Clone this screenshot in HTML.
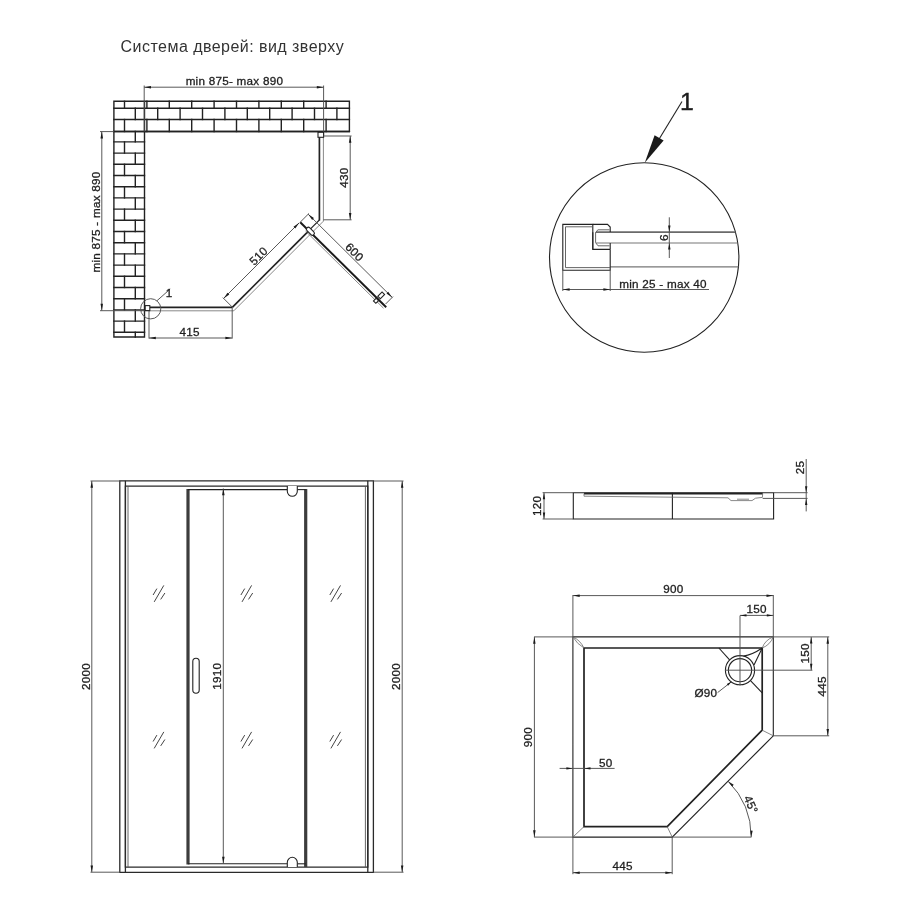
<!DOCTYPE html>
<html lang="ru"><head><meta charset="utf-8"><title>Система дверей: вид зверху</title>
<style>
html,body{margin:0;padding:0;background:#fff}
body{width:900px;height:900px;overflow:hidden}
svg{display:block;filter:grayscale(1)}
text{font-family:"Liberation Sans",sans-serif;fill:#1c1c1c}
.tx{font-size:11.7px;letter-spacing:.25px;stroke:#222;stroke-width:.3px}
.big{font-size:24.8px;stroke:#1c1c1c;stroke-width:.45px}
.ti{font-size:16px;letter-spacing:.46px;fill:#333}
line,path,circle,rect{fill:none;stroke-linecap:butt}
.d{stroke:#505050;stroke-width:.95}
.o{stroke:#222;stroke-width:1.1}
.b{stroke:#222;stroke-width:1.4;stroke-linecap:square}
.t{stroke:#222;stroke-width:1.7}
.t2{stroke:#1a1a1a;stroke-width:2}
.t3{stroke:#3c3c3c;stroke-width:3.2;fill:none}
.o2{stroke:#2a2a2a;stroke-width:1.3}
.g{stroke:#6a6a6a;stroke-width:.8}
.g2{stroke:#555;stroke-width:.9}
.gl{stroke:#6a6a6a;stroke-width:1.8}
.g4{stroke:#777;stroke-width:1.2}
.g3{stroke:#444;stroke-width:1}
.a{fill:#1a1a1a;stroke:none}
</style></head>
<body>
<svg width="900" height="900" viewBox="0 0 900 900">
<rect x="0" y="0" width="900" height="900" style="fill:#fff;stroke:none"/>
<text class="ti" x="120.6" y="51.7" text-anchor="start">Система дверей: вид зверху</text>
<path class="b" d="M113.9 337.0 L113.9 101.3 L349.4 101.3 L349.4 131.5 L144.5 131.5 L144.5 337.0 L113.9 337.0 Z"/>
<line class="b" x1="113.9" y1="108.3" x2="349.4" y2="108.3"/>
<line class="b" x1="113.9" y1="119.5" x2="349.4" y2="119.5"/>
<line class="b" x1="113.9" y1="131.5" x2="144.5" y2="131.5"/>
<line class="b" x1="113.9" y1="141.9" x2="144.5" y2="141.9"/>
<line class="b" x1="113.9" y1="153.1" x2="144.5" y2="153.1"/>
<line class="b" x1="113.9" y1="164.3" x2="144.5" y2="164.3"/>
<line class="b" x1="113.9" y1="175.5" x2="144.5" y2="175.5"/>
<line class="b" x1="113.9" y1="186.7" x2="144.5" y2="186.7"/>
<line class="b" x1="113.9" y1="197.9" x2="144.5" y2="197.9"/>
<line class="b" x1="113.9" y1="209.1" x2="144.5" y2="209.1"/>
<line class="b" x1="113.9" y1="220.3" x2="144.5" y2="220.3"/>
<line class="b" x1="113.9" y1="231.5" x2="144.5" y2="231.5"/>
<line class="b" x1="113.9" y1="242.7" x2="144.5" y2="242.7"/>
<line class="b" x1="113.9" y1="253.9" x2="144.5" y2="253.9"/>
<line class="b" x1="113.9" y1="265.1" x2="144.5" y2="265.1"/>
<line class="b" x1="113.9" y1="276.3" x2="144.5" y2="276.3"/>
<line class="b" x1="113.9" y1="287.5" x2="144.5" y2="287.5"/>
<line class="b" x1="113.9" y1="298.7" x2="144.5" y2="298.7"/>
<line class="b" x1="113.9" y1="309.9" x2="144.5" y2="309.9"/>
<line class="b" x1="113.9" y1="321.1" x2="144.5" y2="321.1"/>
<line class="b" x1="113.9" y1="332.3" x2="144.5" y2="332.3"/>
<line class="b" x1="124.5" y1="101.3" x2="124.5" y2="108.3"/>
<line class="b" x1="146.9" y1="101.3" x2="146.9" y2="108.3"/>
<line class="b" x1="169.3" y1="101.3" x2="169.3" y2="108.3"/>
<line class="b" x1="191.7" y1="101.3" x2="191.7" y2="108.3"/>
<line class="b" x1="214.1" y1="101.3" x2="214.1" y2="108.3"/>
<line class="b" x1="236.5" y1="101.3" x2="236.5" y2="108.3"/>
<line class="b" x1="258.9" y1="101.3" x2="258.9" y2="108.3"/>
<line class="b" x1="281.3" y1="101.3" x2="281.3" y2="108.3"/>
<line class="b" x1="303.7" y1="101.3" x2="303.7" y2="108.3"/>
<line class="b" x1="326.1" y1="101.3" x2="326.1" y2="108.3"/>
<line class="b" x1="135.3" y1="108.3" x2="135.3" y2="119.5"/>
<line class="b" x1="157.7" y1="108.3" x2="157.7" y2="119.5"/>
<line class="b" x1="180.1" y1="108.3" x2="180.1" y2="119.5"/>
<line class="b" x1="202.5" y1="108.3" x2="202.5" y2="119.5"/>
<line class="b" x1="224.9" y1="108.3" x2="224.9" y2="119.5"/>
<line class="b" x1="247.3" y1="108.3" x2="247.3" y2="119.5"/>
<line class="b" x1="269.7" y1="108.3" x2="269.7" y2="119.5"/>
<line class="b" x1="292.1" y1="108.3" x2="292.1" y2="119.5"/>
<line class="b" x1="314.5" y1="108.3" x2="314.5" y2="119.5"/>
<line class="b" x1="336.9" y1="108.3" x2="336.9" y2="119.5"/>
<line class="b" x1="124.5" y1="119.5" x2="124.5" y2="131.5"/>
<line class="b" x1="146.9" y1="119.5" x2="146.9" y2="131.5"/>
<line class="b" x1="169.3" y1="119.5" x2="169.3" y2="131.5"/>
<line class="b" x1="191.7" y1="119.5" x2="191.7" y2="131.5"/>
<line class="b" x1="214.1" y1="119.5" x2="214.1" y2="131.5"/>
<line class="b" x1="236.5" y1="119.5" x2="236.5" y2="131.5"/>
<line class="b" x1="258.9" y1="119.5" x2="258.9" y2="131.5"/>
<line class="b" x1="281.3" y1="119.5" x2="281.3" y2="131.5"/>
<line class="b" x1="303.7" y1="119.5" x2="303.7" y2="131.5"/>
<line class="b" x1="326.1" y1="119.5" x2="326.1" y2="131.5"/>
<line class="b" x1="135.3" y1="131.5" x2="135.3" y2="141.9"/>
<line class="b" x1="124.5" y1="141.9" x2="124.5" y2="153.1"/>
<line class="b" x1="135.3" y1="153.1" x2="135.3" y2="164.3"/>
<line class="b" x1="124.5" y1="164.3" x2="124.5" y2="175.5"/>
<line class="b" x1="135.3" y1="175.5" x2="135.3" y2="186.7"/>
<line class="b" x1="124.5" y1="186.7" x2="124.5" y2="197.9"/>
<line class="b" x1="135.3" y1="197.9" x2="135.3" y2="209.1"/>
<line class="b" x1="124.5" y1="209.1" x2="124.5" y2="220.3"/>
<line class="b" x1="135.3" y1="220.3" x2="135.3" y2="231.5"/>
<line class="b" x1="124.5" y1="231.5" x2="124.5" y2="242.7"/>
<line class="b" x1="135.3" y1="242.7" x2="135.3" y2="253.9"/>
<line class="b" x1="124.5" y1="253.9" x2="124.5" y2="265.1"/>
<line class="b" x1="135.3" y1="265.1" x2="135.3" y2="276.3"/>
<line class="b" x1="124.5" y1="276.3" x2="124.5" y2="287.5"/>
<line class="b" x1="135.3" y1="287.5" x2="135.3" y2="298.7"/>
<line class="b" x1="124.5" y1="298.7" x2="124.5" y2="309.9"/>
<line class="b" x1="135.3" y1="309.9" x2="135.3" y2="321.1"/>
<line class="b" x1="124.5" y1="321.1" x2="124.5" y2="332.3"/>
<line class="b" x1="135.3" y1="332.3" x2="135.3" y2="337.0"/>
<line class="b" x1="144.5" y1="101.3" x2="144.5" y2="131.5"/>
<line class="b" x1="113.9" y1="131.5" x2="349.4" y2="131.5"/>
<text class="tx" x="234.4" y="84.8" text-anchor="middle">min 875- max 890</text>
<line class="d" x1="144.2" y1="87.2" x2="323.6" y2="87.2"/>
<polygon class="a" points="144.2,87.2 151.0,86.0 151.0,88.5"/>
<polygon class="a" points="323.6,87.2 316.8,88.5 316.8,86.0"/>
<line class="d" x1="144.2" y1="85.5" x2="144.2" y2="131.5"/>
<line class="d" x1="323.6" y1="85.5" x2="323.6" y2="136.0"/>
<text class="tx" x="99.9" y="222.0" text-anchor="middle" transform="rotate(-90 99.9 222.0)">min 875 - max 890</text>
<line class="d" x1="101.8" y1="131.6" x2="101.8" y2="310.6"/>
<polygon class="a" points="101.8,131.6 103.0,138.4 100.5,138.4"/>
<polygon class="a" points="101.8,310.6 100.5,303.8 103.0,303.8"/>
<line class="d" x1="100.0" y1="131.6" x2="113.9" y2="131.6"/>
<line class="d" x1="100.0" y1="310.7" x2="150.0" y2="310.7"/>
<line class="t" x1="150.0" y1="307.3" x2="232.3" y2="307.3"/>
<line class="g" x1="149.0" y1="310.8" x2="233.8" y2="310.8"/>
<path class="t" d="M232.3 307.3 L308.5 231.1"/>
<path class="o" d="M308.5 230.9 L319.4 220.0"/>
<path class="t" d="M319.4 220.6 L319.4 133.0"/>
<path class="g" d="M233.8 310.8 L323.4 221.2 L323.4 133.0"/>
<rect class="o" x="145.2" y="305.6" width="4.6" height="5" style="fill:#fff"/>
<rect class="o" x="318" y="132.3" width="5.6" height="5" style="fill:#fff"/>
<line class="t2" x1="300.2" y1="222.2" x2="386.2" y2="307.2"/>
<line class="g" x1="305.5" y1="231.0" x2="383.5" y2="308.2"/>
<rect class="o" x="-4.8" y="-2" width="9.6" height="4" rx="2" style="fill:#fff" transform="translate(310.4 231.2) rotate(45)"/>
<rect class="o" x="-3" y="-1.8" width="6" height="3.6" style="fill:#fff" transform="translate(381.2 295.4) rotate(-45)"/>
<rect class="o" x="-1.9" y="-1.7" width="3.8" height="3.4" style="fill:#fff" transform="translate(376.0 300.8) rotate(-45)"/>
<line class="d" x1="223.6" y1="298.4" x2="299.2" y2="222.8"/>
<polygon class="a" points="223.6,298.4 227.5,292.7 229.3,294.5"/>
<polygon class="a" points="299.2,222.8 295.3,228.5 293.5,226.7"/>
<line class="d" x1="232.3" y1="307.1" x2="222.8" y2="297.6"/>
<text class="tx" x="261.3" y="258.8" text-anchor="middle" transform="rotate(-45 261.3 258.8)">510</text>
<line class="d" x1="308.2" y1="214.2" x2="392.2" y2="297.4"/>
<polygon class="a" points="308.2,214.2 313.9,218.1 312.2,219.9"/>
<polygon class="a" points="392.2,297.4 386.5,293.5 388.2,291.7"/>
<line class="d" x1="300.2" y1="222.2" x2="309.0" y2="213.4"/>
<line class="d" x1="385.6" y1="304.0" x2="393.0" y2="296.6"/>
<text class="tx" x="351.7" y="255.0" text-anchor="middle" transform="rotate(45 351.7 255.0)">600</text>
<line class="d" x1="350.2" y1="136.0" x2="350.2" y2="219.8"/>
<polygon class="a" points="350.2,136.0 351.4,142.8 348.9,142.8"/>
<polygon class="a" points="350.2,219.8 348.9,213.0 351.4,213.0"/>
<line class="d" x1="323.4" y1="136.0" x2="351.6" y2="136.0"/>
<line class="d" x1="323.4" y1="219.8" x2="351.6" y2="219.8"/>
<text class="tx" x="347.8" y="177.5" text-anchor="middle" transform="rotate(-90 347.8 177.5)">430</text>
<line class="d" x1="149.0" y1="338.0" x2="232.2" y2="338.0"/>
<polygon class="a" points="149.0,338.0 155.8,336.8 155.8,339.2"/>
<polygon class="a" points="232.2,338.0 225.4,339.2 225.4,336.8"/>
<line class="d" x1="149.0" y1="310.8" x2="149.0" y2="338.6"/>
<line class="d" x1="232.2" y1="308.0" x2="232.2" y2="338.6"/>
<text class="tx" x="189.7" y="335.6" text-anchor="middle">415</text>
<circle class="d" cx="150.7" cy="308.8" r="10.1" fill="none"/>
<line class="d" x1="156.9" y1="300.8" x2="170.2" y2="289.0"/>
<text class="tx" x="172.6" y="297.4" text-anchor="end">1</text>
<circle class="o" cx="644.2" cy="257.5" r="94.7" fill="none"/>
<text class="big" x="687.0" y="110.0" text-anchor="middle">1</text>
<line class="o" x1="682.0" y1="101.5" x2="652.0" y2="150.8"/>
<polygon class="a" points="644.8,162.8 654.6,135.2 663.6,140.6"/>
<clipPath id="cc"><circle cx="644.2" cy="257.5" r="94.7"/></clipPath>
<g clip-path="url(#cc)">
<line class="gl" x1="596.0" y1="232.2" x2="745.0" y2="232.2"/>
<line class="g4" x1="596.0" y1="243.0" x2="745.0" y2="243.0"/>
<line class="g4" x1="610.2" y1="266.9" x2="745.0" y2="266.9"/>
</g>
<path class="o" d="M610.2 249.4 L592.8 249.4 L592.8 224.4 L562.8 224.4 L562.8 270.2 L610.2 270.2 L610.2 249.4"/>
<path class="o" d="M592.8 224.4 L607.5 224.4 L610.2 227.0 L610.2 232.0"/>
<path class="g2" d="M592.8 226.8 L565.5 226.8 L565.5 267.6 L610.2 267.6"/>
<line class="o" x1="610.2" y1="243.0" x2="610.2" y2="249.4"/>
<path class="g2" d="M609.5 229.8 L598.0 229.8 L595.6 232.2 L595.6 242.7 L598.0 245.8 L609.5 245.8"/>
<line class="o" x1="592.8" y1="232.2" x2="592.8" y2="249.4"/>
<line class="d" x1="669.3" y1="217.3" x2="669.3" y2="258.0"/>
<polygon class="a" points="669.3,232.0 668.1,225.5 670.5,225.5"/>
<polygon class="a" points="669.3,243.0 670.5,249.5 668.1,249.5"/>
<text class="tx" x="668.0" y="237.6" text-anchor="middle" transform="rotate(-90 668.0 237.6)">6</text>
<line class="d" x1="562.8" y1="270.2" x2="562.8" y2="291.0"/>
<line class="d" x1="610.2" y1="270.2" x2="610.2" y2="291.0"/>
<line class="d" x1="562.8" y1="289.5" x2="709.0" y2="289.5"/>
<polygon class="a" points="562.8,289.5 569.6,288.2 569.6,290.8"/>
<polygon class="a" points="610.2,289.5 603.4,290.8 603.4,288.2"/>
<text class="tx" x="619.2" y="287.6" text-anchor="start">min 25 - max 40</text>
<path class="o2" d="M119.8 480.8 L373.4 480.8 L373.4 872.4 L119.8 872.4 Z"/>
<path class="o2" d="M125.4 486.1 L367.8 486.1 L367.8 867.1 L125.4 867.1 Z"/>
<line class="o2" x1="125.4" y1="480.8" x2="125.4" y2="872.4"/>
<line class="o2" x1="367.8" y1="480.8" x2="367.8" y2="872.4"/>
<path class="g2" d="M128.0 486.1 L128.0 867.1"/>
<path class="g2" d="M365.4 486.1 L365.4 867.1"/>
<line class="t3" x1="188.0" y1="489.0" x2="188.0" y2="864.4"/>
<line class="t3" x1="305.7" y1="489.0" x2="305.7" y2="867.0"/>
<line class="o" x1="188.0" y1="489.6" x2="287.0" y2="489.6"/>
<line class="o" x1="297.4" y1="489.6" x2="305.7" y2="489.6"/>
<line class="o" x1="188.0" y1="863.8" x2="287.0" y2="863.8"/>
<line class="o" x1="297.4" y1="863.8" x2="305.7" y2="863.8"/>
<path class="o" style="fill:#fff" d="M287.3 486.1 V491.3 A5 5 0 0 0 297.3 491.3 V486.1"/>
<path class="o" style="fill:#fff" d="M287.3 867.1 V862.3 A5 5 0 0 1 297.3 862.3 V867.1"/>
<rect class="o" x="192.8" y="658.2" width="6.4" height="35" rx="3.2" style="fill:#fff"/>
<line class="g3" x1="153.1" y1="595.0" x2="156.9" y2="588.6"/>
<line class="g3" x1="154.2" y1="601.9" x2="163.8" y2="585.4"/>
<line class="g3" x1="160.7" y1="599.4" x2="164.9" y2="593.0"/>
<line class="g3" x1="153.1" y1="741.5" x2="156.9" y2="735.1"/>
<line class="g3" x1="154.2" y1="748.4" x2="163.8" y2="731.9"/>
<line class="g3" x1="160.7" y1="745.9" x2="164.9" y2="739.5"/>
<line class="g3" x1="240.9" y1="595.0" x2="244.7" y2="588.6"/>
<line class="g3" x1="242.0" y1="601.9" x2="251.6" y2="585.4"/>
<line class="g3" x1="248.5" y1="599.4" x2="252.7" y2="593.0"/>
<line class="g3" x1="240.9" y1="741.5" x2="244.7" y2="735.1"/>
<line class="g3" x1="242.0" y1="748.4" x2="251.6" y2="731.9"/>
<line class="g3" x1="248.5" y1="745.9" x2="252.7" y2="739.5"/>
<line class="g3" x1="329.8" y1="595.0" x2="333.6" y2="588.6"/>
<line class="g3" x1="330.9" y1="601.9" x2="340.5" y2="585.4"/>
<line class="g3" x1="337.4" y1="599.4" x2="341.6" y2="593.0"/>
<line class="g3" x1="329.8" y1="741.5" x2="333.6" y2="735.1"/>
<line class="g3" x1="330.9" y1="748.4" x2="340.5" y2="731.9"/>
<line class="g3" x1="337.4" y1="745.9" x2="341.6" y2="739.5"/>
<line class="d" x1="91.8" y1="481.0" x2="91.8" y2="872.2"/>
<polygon class="a" points="91.8,481.0 93.0,487.8 90.5,487.8"/>
<polygon class="a" points="91.8,872.2 90.5,865.4 93.0,865.4"/>
<line class="d" x1="90.5" y1="481.0" x2="120.0" y2="481.0"/>
<line class="d" x1="90.5" y1="872.2" x2="120.0" y2="872.2"/>
<text class="tx" x="90.0" y="676.6" text-anchor="middle" transform="rotate(-90 90.0 676.6)">2000</text>
<line class="d" x1="402.2" y1="481.0" x2="402.2" y2="872.2"/>
<polygon class="a" points="402.2,481.0 403.4,487.8 400.9,487.8"/>
<polygon class="a" points="402.2,872.2 400.9,865.4 403.4,865.4"/>
<line class="d" x1="373.3" y1="481.0" x2="403.5" y2="481.0"/>
<line class="d" x1="373.3" y1="872.2" x2="403.5" y2="872.2"/>
<text class="tx" x="399.8" y="676.6" text-anchor="middle" transform="rotate(-90 399.8 676.6)">2000</text>
<line class="d" x1="223.3" y1="488.5" x2="223.3" y2="863.6"/>
<polygon class="a" points="223.3,488.5 224.6,495.3 222.1,495.3"/>
<polygon class="a" points="223.3,863.6 222.1,856.8 224.6,856.8"/>
<text class="tx" x="220.6" y="676.3" text-anchor="middle" transform="rotate(-90 220.6 676.3)">1910</text>
<path class="o" d="M573.3 492.7 L773.6 492.7 L773.6 519.0 L573.3 519.0 Z"/>
<line class="o" x1="672.4" y1="492.7" x2="672.4" y2="519.0"/>
<line class="t" x1="584.0" y1="493.6" x2="762.7" y2="493.6"/>
<path class="g" d="M584.0 493.6 L584.0 496.2 L728.0 497.8 L731.0 500.6 L752.0 500.6 L755.5 498.2 L762.4 497.4 L762.7 493.6"/>
<line class="g" x1="737.0" y1="499.2" x2="749.0" y2="499.2"/>
<line class="d" x1="544.0" y1="492.7" x2="544.0" y2="519.0"/>
<polygon class="a" points="544.0,492.7 545.2,499.2 542.8,499.2"/>
<polygon class="a" points="544.0,519.0 542.8,512.5 545.2,512.5"/>
<line class="d" x1="542.6" y1="492.7" x2="573.3" y2="492.7"/>
<line class="d" x1="542.6" y1="519.0" x2="573.3" y2="519.0"/>
<text class="tx" x="541.4" y="505.8" text-anchor="middle" transform="rotate(-90 541.4 505.8)">120</text>
<line class="d" x1="806.2" y1="459.0" x2="806.2" y2="511.4"/>
<polygon class="a" points="806.2,492.7 805.0,486.2 807.4,486.2"/>
<polygon class="a" points="806.2,498.4 807.4,504.9 805.0,504.9"/>
<line class="d" x1="773.6" y1="492.7" x2="807.6" y2="492.7"/>
<line class="d" x1="762.7" y1="498.4" x2="807.6" y2="498.4"/>
<text class="tx" x="803.6" y="467.4" text-anchor="middle" transform="rotate(-90 803.6 467.4)">25</text>
<path class="o" d="M572.9 636.9 L773.3 636.9 L773.3 735.8 L672.2 837.1 L572.9 837.1 Z"/>
<path class="t" d="M584.0 648.0 L762.2 648.0 L762.2 730.2 L667.2 826.6 L584.0 826.6 Z"/>
<line class="g" x1="572.9" y1="837.1" x2="584.0" y2="826.6"/>
<line class="g" x1="672.2" y1="837.1" x2="667.2" y2="826.6"/>
<line class="g" x1="773.3" y1="735.8" x2="762.2" y2="730.2"/>
<path class="g" fill="none" d="M572.9 636.9 Q580 640 584 648 M572.9 636.9 Q577 644 584 648"/>
<path class="g" fill="none" d="M773.3 636.9 Q770 645 762.2 648 M773.3 636.9 Q765 640 762.2 648"/>
<circle class="o" cx="740" cy="670.2" r="14.6" fill="none"/>
<circle class="o" cx="740" cy="670.2" r="11.6" fill="none"/>
<line class="o" x1="718.9" y1="648.0" x2="729.6" y2="659.9"/>
<line class="o" x1="750.5" y1="680.6" x2="762.2" y2="692.8"/>
<path class="o" fill="none" d="M762.2 648 Q752 655 743.5 656 M762.2 648 L754 665"/>
<line class="d" x1="740.0" y1="615.6" x2="740.0" y2="685.6"/>
<line class="d" x1="725.0" y1="670.2" x2="812.4" y2="670.2"/>
<line class="d" x1="572.9" y1="595.6" x2="773.3" y2="595.6"/>
<polygon class="a" points="572.9,595.6 579.7,594.4 579.7,596.9"/>
<polygon class="a" points="773.3,595.6 766.5,596.9 766.5,594.4"/>
<line class="d" x1="572.9" y1="595.0" x2="572.9" y2="636.9"/>
<line class="d" x1="773.3" y1="595.0" x2="773.3" y2="636.9"/>
<text class="tx" x="673.3" y="593.2" text-anchor="middle">900</text>
<line class="d" x1="740.0" y1="615.4" x2="773.3" y2="615.4"/>
<polygon class="a" points="740.0,615.4 746.5,614.2 746.5,616.6"/>
<polygon class="a" points="773.3,615.4 766.8,616.6 766.8,614.2"/>
<text class="tx" x="756.6" y="612.8" text-anchor="middle">150</text>
<line class="d" x1="534.4" y1="636.9" x2="534.4" y2="837.1"/>
<polygon class="a" points="534.4,636.9 535.6,643.7 533.1,643.7"/>
<polygon class="a" points="534.4,837.1 533.1,830.3 535.6,830.3"/>
<line class="d" x1="534.0" y1="636.9" x2="572.9" y2="636.9"/>
<line class="d" x1="534.0" y1="837.1" x2="572.9" y2="837.1"/>
<text class="tx" x="532.0" y="737.2" text-anchor="middle" transform="rotate(-90 532.0 737.2)">900</text>
<line class="d" x1="811.2" y1="636.9" x2="811.2" y2="670.2"/>
<polygon class="a" points="811.2,636.9 812.4,643.4 810.0,643.4"/>
<polygon class="a" points="811.2,670.2 810.0,663.7 812.4,663.7"/>
<text class="tx" x="808.8" y="653.4" text-anchor="middle" transform="rotate(-90 808.8 653.4)">150</text>
<line class="d" x1="827.8" y1="636.9" x2="827.8" y2="735.8"/>
<polygon class="a" points="827.8,636.9 829.0,643.7 826.5,643.7"/>
<polygon class="a" points="827.8,735.8 826.5,729.0 829.0,729.0"/>
<line class="d" x1="773.3" y1="636.9" x2="829.2" y2="636.9"/>
<line class="d" x1="773.3" y1="735.8" x2="829.2" y2="735.8"/>
<text class="tx" x="825.6" y="686.3" text-anchor="middle" transform="rotate(-90 825.6 686.3)">445</text>
<line class="d" x1="559.6" y1="768.4" x2="614.6" y2="768.4"/>
<polygon class="a" points="572.9,768.4 566.4,769.6 566.4,767.2"/>
<polygon class="a" points="584.0,768.4 590.5,767.2 590.5,769.6"/>
<text class="tx" x="605.8" y="766.6" text-anchor="middle">50</text>
<line class="d" x1="572.9" y1="872.7" x2="672.2" y2="872.7"/>
<polygon class="a" points="572.9,872.7 579.7,871.5 579.7,874.0"/>
<polygon class="a" points="672.2,872.7 665.4,874.0 665.4,871.5"/>
<line class="d" x1="572.9" y1="837.1" x2="572.9" y2="874.2"/>
<line class="d" x1="672.2" y1="837.1" x2="672.2" y2="874.2"/>
<text class="tx" x="622.6" y="870.4" text-anchor="middle">445</text>
<line class="d" x1="672.2" y1="837.1" x2="751.4" y2="837.1"/>
<path class="d" fill="none" d="M751.2 837.1 A79.0 79.0 0 0 0 728.1 781.2"/>
<polygon class="a" points="751.2,837.1 750.3,830.5 752.7,830.7"/>
<polygon class="a" points="728.1,781.2 733.7,784.7 732.1,786.5"/>
<text class="tx" x="747.3" y="806.2" text-anchor="middle" transform="rotate(66 747.3 806.2)">45°</text>
<text class="tx" x="694.4" y="696.6" text-anchor="start">Ø90</text>
<line class="d" x1="717.6" y1="692.6" x2="731.4" y2="681.8"/>
<polygon class="a" points="731.4,681.8 728.1,685.7 726.8,684.0"/>
</svg>
</body></html>
